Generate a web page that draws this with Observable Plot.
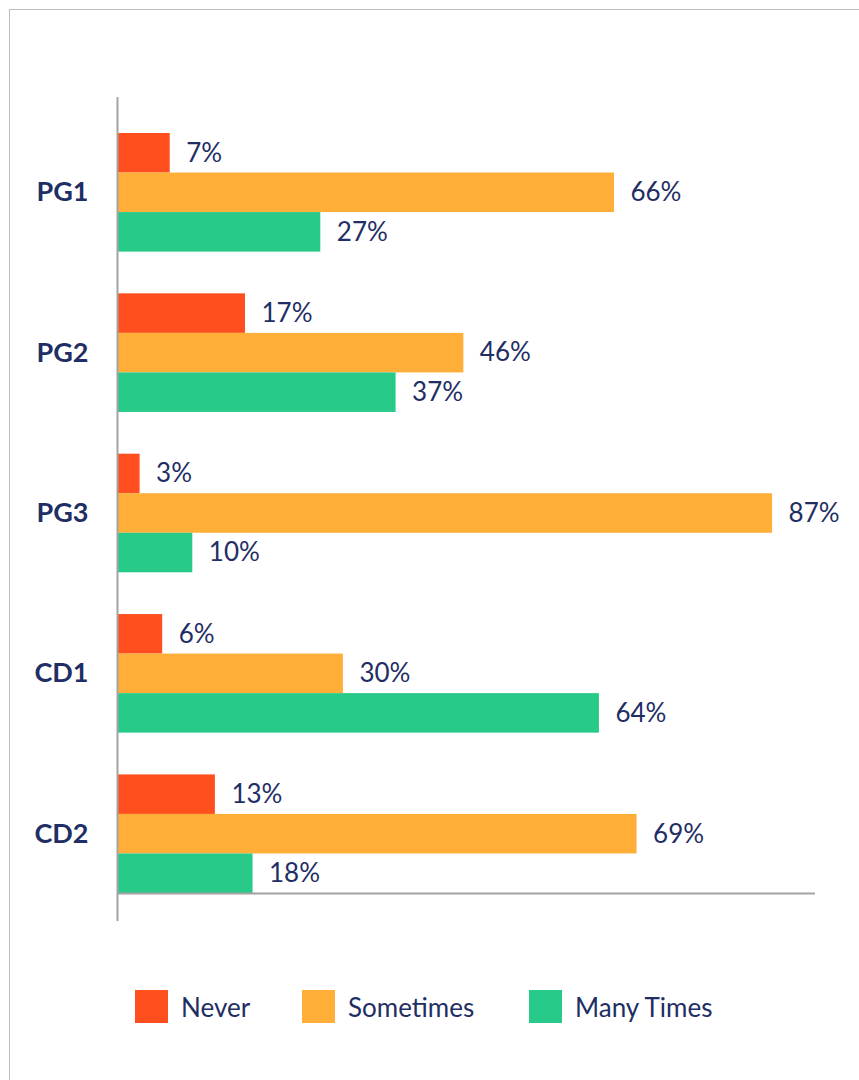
<!DOCTYPE html>
<html>
<head>
<meta charset="utf-8">
<script src="https://cdn.jsdelivr.net/npm/d3@7"></script>
<script src="https://cdn.jsdelivr.net/npm/@observablehq/plot@0.6"></script>
<style>
  html, body { margin: 0; padding: 0; background: #fff; width: 859px; height: 1080px; overflow: hidden; }
  #frame { position: absolute; left: 9px; top: 9px; width: 900px; height: 1100px;
           border-top: 1px solid #bdbdbd; border-left: 1px solid #bdbdbd; }
  #chart { position: absolute; left: 0; top: 0; }
  #legend { position: absolute; left: 135px; top: 990px; display: flex; align-items: center;
            font-family: Lato, sans-serif; font-size: 26px; color: #1f2e64; }
  .item { display: flex; align-items: center; }
  .sw { width: 33px; height: 33px; margin-right: 13px; flex: none; }
</style>
</head>
<body>
<div id="frame"></div>
<div id="chart"></div>
<div id="legend"></div>
<script>
const groups = ["PG1", "PG2", "PG3", "CD1", "CD2"];
const seriesNames = ["Never", "Sometimes", "Many Times"];
const never = [7, 17, 3, 6, 13];
const sometimes = [66, 46, 87, 30, 69];
const manyTimes = [27, 37, 10, 64, 18];
const colors = ["#FF4F1F", "#FFAE38", "#28CA8A"];
const textColor = "#1f2e64";

const seriesValues = [never, sometimes, manyTimes];
const STEP = 4.056; // group step in bar-height units
const rows = [];
groups.forEach((g, gi) => {
  seriesNames.forEach((s, si) => {
    const y1 = gi * STEP + si;
    rows.push({group: g, series: s, value: seriesValues[si][gi], y1, y2: y1 + 1});
  });
});
const yMax = (groups.length - 1) * STEP + seriesNames.length;
const groupRows = groups.map((g, gi) => ({group: g, yc: gi * STEP + seriesNames.length / 2}));

const chart = Plot.plot({
  width: 859,
  height: 960,
  marginLeft: 117,
  marginRight: 44,
  marginTop: 97,
  marginBottom: 39,
  x: {type: "linear", domain: [0, 92.7], axis: null},
  y: {type: "linear", domain: [0, yMax], range: [133, 893], axis: null},
  color: {domain: seriesNames, range: colors},
  style: {fontFamily: "Lato, sans-serif", fontSize: "26px", color: textColor, background: "transparent", overflow: "visible"},
  marks: [
    Plot.rectX(rows, {x1: 0, x2: "value", y1: "y1", y2: "y2", fill: "series"}),
    Plot.text(rows, {x: "value", y: d => (d.y1 + d.y2) / 2, text: d => d.value + "%",
      textAnchor: "start", dx: 16, fill: textColor, fontSize: 26}),
    Plot.text(groupRows, {x: 0, y: "yc", text: "group", textAnchor: "end", dx: -29,
      fill: textColor, fontSize: 27, fontWeight: "bold"}),
    Plot.ruleX([0], {stroke: "#a3a3a3", strokeWidth: 2}),
    Plot.ruleY([yMax], {stroke: "#a3a3a3", strokeWidth: 2})
  ]
});
document.getElementById("chart").appendChild(chart);

const legend = document.getElementById("legend");
const itemWidths = [167, 227, 200];
seriesNames.forEach((s, i) => {
  const item = document.createElement("div");
  item.className = "item";
  item.style.width = itemWidths[i] + "px";
  const sw = document.createElement("div");
  sw.className = "sw";
  sw.style.background = colors[i];
  const lab = document.createElement("span");
  lab.textContent = s;
  item.appendChild(sw);
  item.appendChild(lab);
  legend.appendChild(item);
});
</script>
</body>
</html>
